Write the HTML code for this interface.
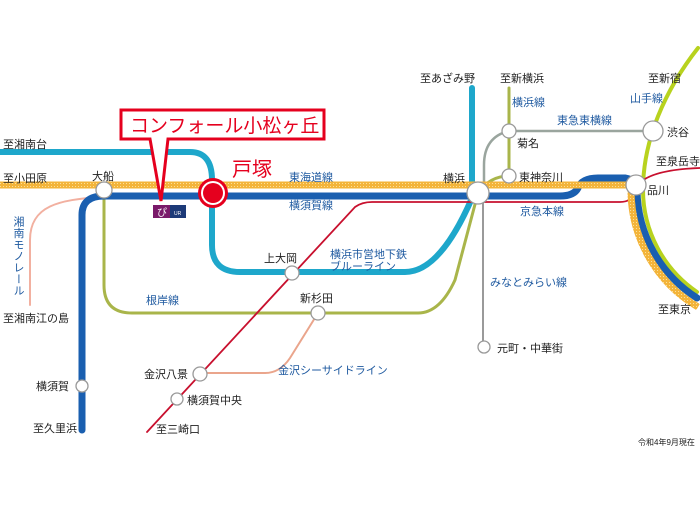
<!DOCTYPE html>
<html><head><meta charset="utf-8"><style>
html,body{margin:0;padding:0;background:#fff;width:700px;height:525px;overflow:hidden}
text{font-family:"Liberation Sans","Noto Sans CJK JP",sans-serif;font-size:11px;fill:#222}
.b{fill:#1f5aa0}
</style></head><body>
<svg width="700" height="525" viewBox="0 0 700 525" xmlns="http://www.w3.org/2000/svg">
<defs>
<pattern id="dot" width="3" height="3" patternUnits="userSpaceOnUse"><rect width="3" height="3" fill="#f3b43a"/><rect width="1" height="1" fill="#fbe09a"/></pattern>
</defs>
<g fill="none" stroke-linecap="round">
<path d="M100,197 C60,200 30,205 30,240 L30,305" stroke="#f2b0a0" stroke-width="2"/>
<!-- yamanote -->
<path d="M698,48 C665,90 643,140 643,190 A124,124 0 0 0 697,292" stroke="#b8d21e" stroke-width="4"/>
<path d="M104,198 L104,285 Q104,313 132,313 L418,313 Q440,313 455,280 L478,193 Q490,176 509,176" stroke="#a9b54a" stroke-width="3"/>
<path d="M509,88 L509,176" stroke="#a9b54a" stroke-width="3"/>
<path d="M509,131 L653,131 M509,131 Q484,137 484,165 L484,193" stroke="#9aa59e" stroke-width="2.5"/>
<path d="M483,193 L483,347" stroke="#9a9a9a" stroke-width="2"/>
<path d="M0,152 L190,152 Q212,152 212,180 L212,245 Q212,272 240,272 L405,272 Q440,272 472,198 L472,88" stroke="#1ea7cb" stroke-width="6"/>
<path d="M147,432 L355,207 Q362,202 372,202 L620,202 Q632,202 634,192 Q640,170 700,168" stroke="#c8102e" stroke-width="1.8"/>
<path d="M200,373 L265,373 Q280,373 290,358 L318,313" stroke="#eaa58c" stroke-width="2"/>
<!-- Yokosuka blue -->
<path d="M82,430 L82,215 Q82,196 104,196 L560,196 Q574,196 578,188 Q582,178 598,178 L625,178 Q637,180 637,190 A130,130 0 0 0 697,298" stroke="#1a5fb0" stroke-width="7"/>
<!-- Tokaido -->
<path d="M0,185 L628,185 Q631,186 631,190 A136,136 0 0 0 698,307" stroke="url(#dot)" stroke-width="7" stroke-linecap="butt"/>
</g>
<g fill="#fff" stroke="#999" stroke-width="1.3">
<circle cx="104" cy="190" r="8"/>
<circle cx="292" cy="273" r="7"/>
<circle cx="318" cy="313" r="7"/>
<circle cx="200" cy="374" r="7"/>
<circle cx="177" cy="399" r="6"/>
<circle cx="82" cy="386" r="6"/>
<circle cx="478" cy="193" r="11"/>
<circle cx="509" cy="131" r="7"/>
<circle cx="509" cy="176" r="7"/>
<circle cx="653" cy="131" r="10"/>
<circle cx="636" cy="185" r="10"/>
<circle cx="484" cy="347" r="6"/>
</g>
<circle cx="213" cy="193" r="15" fill="#e5001e"/>
<circle cx="213" cy="193" r="12" fill="#fff"/>
<circle cx="213" cy="193" r="10" fill="#e5001e"/>
<path d="M121,110 L324,110 L324,139 L168,139 L161,201 L150,139 L121,139 Z" fill="#fff" stroke="#e5001e" stroke-width="3"/>
<text x="130" y="132" style="font-size:19px;fill:#e5001e">コンフォール小松ヶ丘</text>
<text x="232" y="176" style="font-size:20px;fill:#e5001e">戸塚</text>
<rect x="153" y="205" width="17" height="13" fill="#7a1a6a"/>
<rect x="170" y="205" width="16" height="13" fill="#1d3a78"/>
<text x="174" y="215" style="font-size:5px;fill:#fff">UR</text>
<text x="157" y="216" style="font-size:10px;fill:#fff">ぴ</text>
<text x="3" y="148">至湘南台</text>
<text x="3" y="182">至小田原</text>
<text x="92" y="180">大船</text>
<text x="3" y="322">至湘南江の島</text>
<text x="36" y="390">横須賀</text>
<text x="33" y="432">至久里浜</text>
<text x="264" y="262">上大岡</text>
<text x="300" y="302">新杉田</text>
<text x="144" y="378">金沢八景</text>
<text x="187" y="404">横須賀中央</text>
<text x="156" y="433">至三崎口</text>
<text x="443" y="182">横浜</text>
<text x="420" y="82">至あざみ野</text>
<text x="500" y="82">至新横浜</text>
<text x="517" y="147">菊名</text>
<text x="519" y="181">東神奈川</text>
<text x="667" y="136">渋谷</text>
<text x="648" y="82">至新宿</text>
<text x="656" y="165">至泉岳寺</text>
<text x="647" y="194">品川</text>
<text x="658" y="313">至東京</text>
<text x="497" y="352">元町・中華街</text>
<text x="638" y="445" style="font-size:8px">令和4年9月現在</text>
<text class="b" x="289" y="181">東海道線</text>
<text class="b" x="289" y="209">横須賀線</text>
<text class="b" x="330" y="258">横浜市営地下鉄</text>
<text class="b" x="330" y="270">ブルーライン</text>
<text class="b" x="146" y="304">根岸線</text>
<text class="b" x="278" y="374">金沢シーサイドライン</text>
<text class="b" x="512" y="106">横浜線</text>
<text class="b" x="557" y="124">東急東横線</text>
<text class="b" x="630" y="102">山手線</text>
<text class="b" x="520" y="215">京急本線</text>
<text class="b" x="490" y="286">みなとみらい線</text>
<text class="b" x="18" y="216" style="writing-mode:vertical-rl;letter-spacing:0.5px">湘南モノレール</text>
</svg>
</body></html>
